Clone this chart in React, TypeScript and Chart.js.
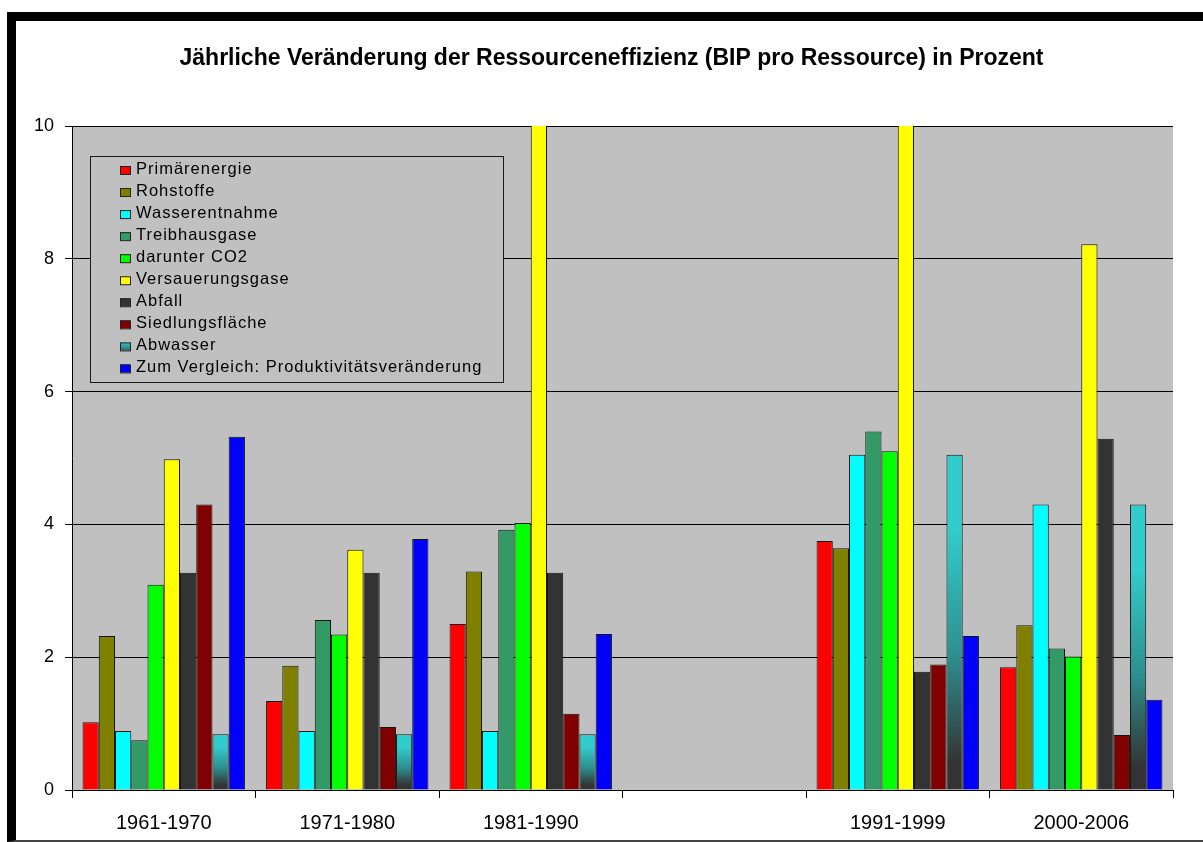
import React, { useEffect, useRef } from 'react';
import { Chart, registerables } from 'chart.js';

Chart.register(...registerables);

// ---------- data ----------
const categories = ['1961-1970', '1971-1980', '1981-1990', '', '1991-1999', '2000-2006'];
const yTicks = [0, 2, 4, 6, 8, 10];

const seriesNames = [
  'Primärenergie',
  'Rohstoffe',
  'Wasserentnahme',
  'Treibhausgase',
  'darunter CO2',
  'Versauerungsgase',
  'Abfall',
  'Siedlungsfläche',
  'Abwasser',
  'Zum Vergleich: Produktivitätsveränderung',
];

const primaerenergie = [1.02, 1.34, 2.5, null, 3.75, 1.85];
const rohstoffe = [2.32, 1.87, 3.29, null, 3.64, 2.48];
const wasserentnahme = [0.89, 0.89, 0.89, null, 5.05, 4.3];
const treibhausgase = [0.75, 2.56, 3.92, null, 5.4, 2.13];
const darunterCO2 = [3.09, 2.34, 4.02, null, 5.1, 2.01];
const versauerungsgase = [4.98, 3.62, 12.5, null, 12.0, 8.22];
const abfall = [3.27, 3.27, 3.27, null, 1.78, 5.29];
const siedlungsflaeche = [4.3, 0.95, 1.15, null, 1.89, 0.83];
const abwasser = [0.84, 0.84, 0.84, null, 5.05, 4.3];
const produktivitaet = [5.32, 3.78, 2.35, null, 2.32, 1.36];

const seriesValues = [
  primaerenergie,
  rohstoffe,
  wasserentnahme,
  treibhausgase,
  darunterCO2,
  versauerungsgase,
  abfall,
  siedlungsflaeche,
  abwasser,
  produktivitaet,
];

const seriesColors = [
  '#FF0000',
  '#808000',
  '#00FFFF',
  '#339966',
  '#00FF00',
  '#FFFF00',
  '#333333',
  '#800000',
  '#33CCCC',
  '#0000FF',
];

const FONT = '"Liberation Sans", Arial, Helvetica, sans-serif';
const TITLE = 'Jährliche Veränderung der Ressourceneffizienz (BIP pro Ressource) in Prozent';

const gradientIndex = 8; // Abwasser

function abwasserFill(context: any) {
  const chart = context.chart;
  const scales = chart.scales;
  if (!chart.chartArea || context.type !== 'data' || !scales || !scales.y) return '#33CCCC';
  const v = context.raw;
  if (v === null || v === undefined) return '#33CCCC';
  const top = scales.y.getPixelForValue(v);
  const bottom = scales.y.getPixelForValue(0);
  if (!isFinite(top) || !isFinite(bottom) || bottom - top < 1) return '#33CCCC';
  const g = chart.ctx.createLinearGradient(0, top, 0, bottom);
  g.addColorStop(0, '#33CCCC');
  g.addColorStop(0.22, '#33CCCC');
  g.addColorStop(0.6, '#2E8E8E');
  g.addColorStop(0.92, '#333333');
  g.addColorStop(1, '#333333');
  return g;
}

const plotBackground = {
  id: 'plotBackground',
  beforeDraw(chart: any) {
    const { ctx, chartArea } = chart;
    if (!chartArea) return;
    ctx.save();
    ctx.fillStyle = '#C0C0C0';
    ctx.fillRect(chartArea.left, chartArea.top, chartArea.right - chartArea.left, chartArea.bottom - chartArea.top);
    ctx.restore();
  },
};

const boxedLegend = {
  id: 'boxedLegend',
  afterDatasetsDraw(chart: any) {
    const { ctx } = chart;
    const datasets = chart.data.datasets;
    ctx.save();
    ctx.fillStyle = '#C0C0C0';
    ctx.fillRect(90, 156, 413, 226);
    ctx.strokeStyle = '#1a1a1a';
    ctx.lineWidth = 1;
    ctx.strokeRect(90.5, 156.5, 413, 226);
    ctx.font = `16.5px ${FONT}`;
    try {
      (ctx as any).letterSpacing = '1px';
    } catch (e) {}
    ctx.textBaseline = 'alphabetic';
    ctx.textAlign = 'left';
    datasets.forEach((ds: any, i: number) => {
      const base = 174 + i * 22.05;
      const sx = 120;
      const sy = base - 8;
      if (i === gradientIndex) {
        const g = ctx.createLinearGradient(0, sy, 0, sy + 8);
        g.addColorStop(0, '#33CCCC');
        g.addColorStop(1, '#336666');
        ctx.fillStyle = g;
      } else {
        ctx.fillStyle = seriesColors[i];
      }
      ctx.fillRect(sx, sy, 10, 8);
      ctx.strokeStyle = '#222';
      ctx.strokeRect(sx + 0.5, sy + 0.5, 10, 8);
      ctx.fillStyle = '#000';
      ctx.fillText(ds.label, 136, base);
    });
    ctx.restore();
  },
};

export default function App() {
  const canvasRef = useRef<HTMLCanvasElement | null>(null);

  useEffect(() => {
    if (!canvasRef.current) return;
    const datasets = seriesNames.map((name, i) => ({
      label: name,
      data: seriesValues[i],
      backgroundColor: i === gradientIndex ? abwasserFill : seriesColors[i],
      borderColor: '#141414',
      borderWidth: 1,
      categoryPercentage: 0.885,
      barPercentage: 1.0,
      yAxisID: 'y',
    }));

    const chart = new Chart(canvasRef.current, {
      type: 'bar',
      data: { labels: categories, datasets: datasets as any },
      plugins: [plotBackground, boxedLegend],
      options: {
        responsive: false,
        animation: false,
        events: [],
        layout: { padding: { left: 20, right: 0, top: 0, bottom: 0 } },
        plugins: {
          legend: { display: false },
          tooltip: { enabled: false },
          title: {
            display: true,
            text: TITLE,
            color: '#000',
            font: { family: FONT, size: 23, weight: 'bold', lineHeight: 1.2 },
            padding: { top: 45, bottom: 53.4 },
          },
        },
        scales: {
          x: {
            offset: true,
            grid: {
              offset: true,
              drawOnChartArea: false,
              drawTicks: true,
              tickLength: 8,
              color: '#000',
              lineWidth: 1,
            },
            border: { display: true, color: '#000', width: 1 },
            ticks: {
              color: '#000',
              font: { family: FONT, size: 20 },
              padding: 13,
              autoSkip: false,
              maxRotation: 0,
            },
            afterFit(scale: any) {
              scale.height = 52;
            },
          },
          y: {
            position: 'left',
            min: 0,
            max: 10,
            grid: {
              color: '#000',
              lineWidth: 1,
              drawTicks: true,
              tickLength: 7,
            },
            border: { display: true, color: '#000', width: 1 },
            ticks: {
              color: '#000',
              font: { family: FONT, size: 18 },
              padding: 11,
              stepSize: 2,
            },
            afterBuildTicks(scale: any) {
              scale.ticks = yTicks.map((v) => ({ value: v }));
            },
            afterFit(scale: any) {
              scale.width = 52;
            },
          },
          yRight: {
            position: 'right',
            min: 0,
            max: 10,
            grid: { display: false, drawTicks: false },
            border: { display: false },
            ticks: { display: false },
            afterFit(scale: any) {
              scale.width = 30;
            },
          },
        },
      },
    });
    return () => chart.destroy();
  }, []);

  return (
    <div
      style={{
        position: 'absolute',
        left: 0,
        top: 0,
        width: 1203,
        height: 842,
        background: '#fff',
        overflow: 'hidden',
      }}
    >
      <div
        style={{
          position: 'absolute',
          left: 7,
          top: 12,
          width: 1203 - 7 - 9,
          height: 842 - 12 - 9 - 2,
          borderTop: '9px solid #000',
          borderLeft: '9px solid #000',
          borderBottom: '2px solid #444',
          boxSizing: 'content-box',
        }}
      />
      <canvas
        ref={canvasRef}
        width={1203}
        height={842}
        style={{ position: 'absolute', left: 0, top: 0, width: 1203, height: 842 }}
      />
    </div>
  );
}
